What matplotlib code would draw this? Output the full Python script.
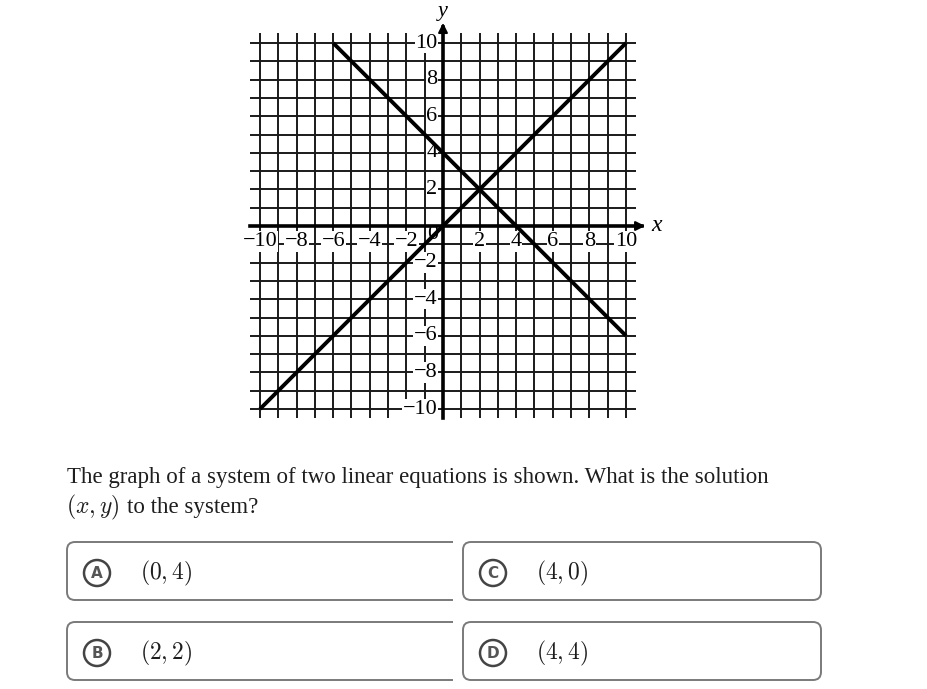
import numpy as np
import matplotlib.pyplot as plt
from matplotlib.patches import FancyBboxPatch, Circle, Rectangle

plt.rcParams['mathtext.fontset'] = 'cm'

line1_x = [-10, 10]
line1_y = [-10, 10]      # y = x
line2_x = [-6, 10]
line2_y = [10, -6]       # y = -x + 4
ticks = [-10, -8, -6, -4, -2, 2, 4, 6, 8, 10]

question = "The graph of a system of two linear equations is shown. What is the solution"
question2 = "to the system?"
letters = ['A', 'B', 'C', 'D']
answers = ['(0, 4)', '(2, 2)', '(4, 0)', '(4, 4)']

W, H = 928, 689
fig = plt.figure(figsize=(W / 100, H / 100), dpi=100)

# overlay in pixel coordinates for text and answer boxes
ov = fig.add_axes([0, 0, 1, 1])
ov.set_xlim(0, W)
ov.set_ylim(H, 0)
ov.axis('off')

# graph axes placed in pixels: x=-10 -> 260px, x=10 -> 626px, y=10 -> 43px, y=-10 -> 409px
u = 18.3
x0, y0 = 443, 226
left, right, top, bottom = 225, 675, 0, 432
ax = fig.add_axes([left / W, 1 - bottom / H, (right - left) / W, (bottom - top) / H])
ax.set_xlim((left - x0) / u, (right - x0) / u)
ax.set_ylim(-(bottom - y0) / u, (y0 - top) / u)
ax.axis('off')

gc = '#1a1a1a'
for v in range(-10, 11):
    ax.plot([-10.55, 10.55], [v, v], color=gc, lw=1.4, zorder=1, solid_capstyle='butt')
    ax.plot([v, v], [-10.5, 10.55], color=gc, lw=1.4, zorder=1, solid_capstyle='butt')

# axes with arrows
ax.plot([-10.55, 10.9], [0, 0], color='black', lw=2.6, zorder=3)
ax.plot([0, 0], [-10.5, 10.9], color='black', lw=2.6, zorder=3)
ax.annotate('', xy=(11.2, 0), xytext=(10.6, 0),
            arrowprops=dict(arrowstyle='-|>', color='black', lw=1.5, mutation_scale=14), zorder=4)
ax.annotate('', xy=(0, 11.25), xytext=(0, 10.65),
            arrowprops=dict(arrowstyle='-|>', color='black', lw=1.5, mutation_scale=14), zorder=4)
ax.text(11.4, 0.05, 'x', fontsize=17, family='Liberation Serif', style='italic', va='center', ha='left')
ax.text(0, 11.72, 'y', fontsize=16, family='Liberation Serif', style='italic', va='center', ha='center')

# tick labels
bb = dict(facecolor='white', edgecolor='none', pad=0.5)
for t in ticks:
    lab = '\u2212' + str(abs(t)) if t < 0 else str(t)
    ax.text(t, -0.85, lab, fontsize=16, family='Liberation Serif',
            ha='center', va='center', bbox=bb, zorder=2)
    ax.text(-0.3, t, lab, fontsize=16, family='Liberation Serif',
            ha='right', va='center', bbox=bb, zorder=2)
ax.text(-0.55, -0.45, '0', fontsize=16, family='Liberation Serif', ha='center', va='center', zorder=2)

# the two lines
ax.plot(line1_x, line1_y, color='black', lw=2.8, zorder=5, solid_capstyle='butt')
ax.plot(line2_x, line2_y, color='black', lw=2.8, zorder=5, solid_capstyle='butt')

# question text
tc = '#1e1e1e'
ov.text(67, 477, question, fontsize=16.5, family='Liberation Serif', va='center', ha='left', color=tc)
ov.text(66, 507, r'$(x, y)$', fontsize=17, va='center', ha='left', color=tc)
ov.text(127, 507, question2, fontsize=16.5, family='Liberation Serif', va='center', ha='left', color=tc)

# answer boxes
boxes = [(67, 542), (67, 622), (463, 542), (463, 622)]
for (bx, by), let, ans in zip(boxes, letters, answers):
    if bx < 400:
        p = FancyBboxPatch((bx, by), 420, 58, boxstyle='round,pad=0,rounding_size=8',
                           fc='none', ec='#7a7a7a', lw=1.4)
        ov.add_patch(p)
        p.set_clip_path(Rectangle((bx - 5, by - 5), 453 - bx + 5, 70, transform=ov.transData))
    else:
        p = FancyBboxPatch((bx, by), 358, 58, boxstyle='round,pad=0,rounding_size=8',
                           fc='none', ec='#7a7a7a', lw=1.4)
        ov.add_patch(p)
    cx, cy = bx + 30, by + 31
    ov.add_patch(Circle((cx, cy), 13, fc='white', ec='#444444', lw=1.8))
    ov.text(cx, cy + 0.5, let, fontsize=11, family='DejaVu Sans', fontweight='bold',
            color='#555555', ha='center', va='center')
    ov.text(bx + 73, cy, '$' + ans + '$', fontsize=17, va='center', ha='left', color=tc)

fig.savefig('out.png', dpi=100)
